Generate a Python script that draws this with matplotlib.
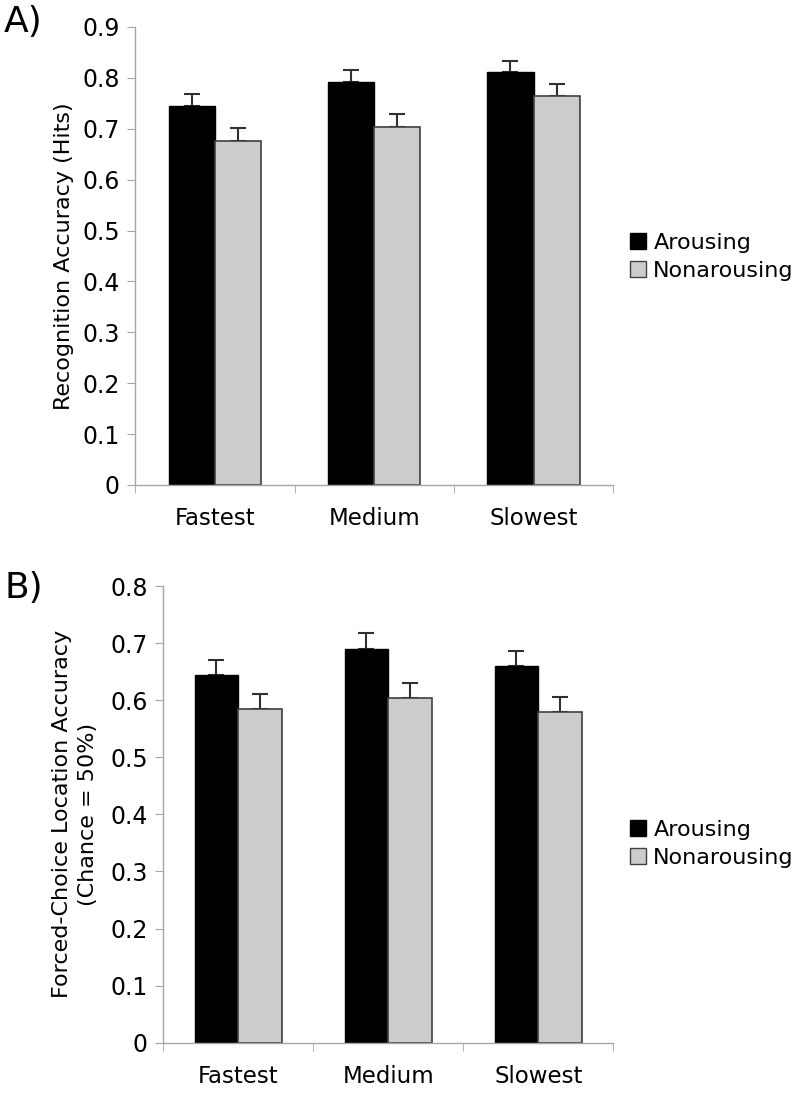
import matplotlib
matplotlib.use('Agg')
import matplotlib.pyplot as plt
import numpy as np
from matplotlib.lines import Line2D

# -----------------------------------------------------------------------
# data
cats = ['Fastest', 'Medium', 'Slowest']

recog_arousing = [0.745, 0.792, 0.811]
recog_arousing_err = [0.023, 0.023, 0.023]
recog_nonarousing = [0.676, 0.703, 0.765]
recog_nonarousing_err = [0.025, 0.025, 0.023]

loc_arousing = [0.644, 0.690, 0.660]
loc_arousing_err = [0.026, 0.027, 0.026]
loc_nonarousing = [0.585, 0.604, 0.580]
loc_nonarousing_err = [0.026, 0.027, 0.026]

black = '#000000'
grey = '#cccccc'
axcol = '#a6a6a6'
errcol = '#303030'

plt.rcParams['font.family'] = 'DejaVu Sans'

fig = plt.figure(figsize=(8, 10.96), dpi=100)


def panel(rect, a, aerr, n, nerr, ymax, ylabel, labx, legy):
	ax = fig.add_axes(rect)
	x = np.arange(len(cats))
	w = 0.29
	ax.bar(x - w/2, a, w, color=black, edgecolor=black, linewidth=1, zorder=2)
	ax.bar(x + w/2, n, w, color=grey, edgecolor='#404040', linewidth=1.2, zorder=2)
	ax.errorbar(x - w/2, a, yerr=[np.zeros(len(a)), aerr], fmt='none',
		ecolor=errcol, elinewidth=1.5, capsize=6, capthick=1.5, zorder=1)
	ax.errorbar(x + w/2, n, yerr=[np.zeros(len(n)), nerr], fmt='none',
		ecolor=errcol, elinewidth=1.5, capsize=6, capthick=1.5, zorder=1)
	ax.set_xlim(-0.5, 2.5)
	ax.set_ylim(0, ymax)
	ax.set_yticks(np.arange(0, ymax + 0.001, 0.1))
	ax.set_yticklabels(['0'] + ['%.1f' % v for v in np.arange(0.1, ymax + 0.001, 0.1)])
	ax.set_xticks(x)
	ax.set_xticklabels(cats)
	ax.set_xticks([-0.5, 0.5, 1.5, 2.5], minor=True)
	ax.tick_params(axis='x', which='major', length=0, labelsize=16.5, pad=16)
	ax.tick_params(axis='x', which='minor', length=6, color=axcol, direction='out')
	ax.tick_params(axis='y', length=6, color=axcol, labelsize=17, pad=5)
	for s in ['top', 'right']:
		ax.spines[s].set_visible(False)
	for s in ['left', 'bottom']:
		ax.spines[s].set_color(axcol)
		ax.spines[s].set_linewidth(1)
	ax.set_ylabel(ylabel, fontsize=16, linespacing=1.4)
	ax.yaxis.set_label_coords(labx, 0.5)
	handles = [
		Line2D([], [], marker='s', ls='none', markersize=12, markerfacecolor=black, markeredgecolor=black),
		Line2D([], [], marker='s', ls='none', markersize=12, markerfacecolor=grey, markeredgecolor='#404040'),
	]
	fig.legend(handles, ['Arousing', 'Nonarousing'], loc='center left',
		bbox_to_anchor=(0.775, legy), frameon=False, fontsize=16,
		handlelength=0.8, handletextpad=0.3, labelspacing=0.35, borderaxespad=0)
	return ax


panel([0.169, 0.5575, 0.5975, 0.4179], recog_arousing, recog_arousing_err,
	recog_nonarousing, recog_nonarousing_err, 0.9,
	'Recognition Accuracy (Hits)', -0.128, 1 - 257/1096.)
panel([0.204, 0.0486, 0.5625, 0.4167], loc_arousing, loc_arousing_err,
	loc_nonarousing, loc_nonarousing_err, 0.8,
	'Forced-Choice Location Accuracy\n(Chance = 50%)', -0.144, 1 - 844/1096.)

fig.text(0.005, 1 - 22/1096., 'A)', fontsize=26, va='center', ha='left')
fig.text(0.005, 1 - 588/1096., 'B)', fontsize=26, va='center', ha='left')

fig.savefig('out.png', dpi=100)
